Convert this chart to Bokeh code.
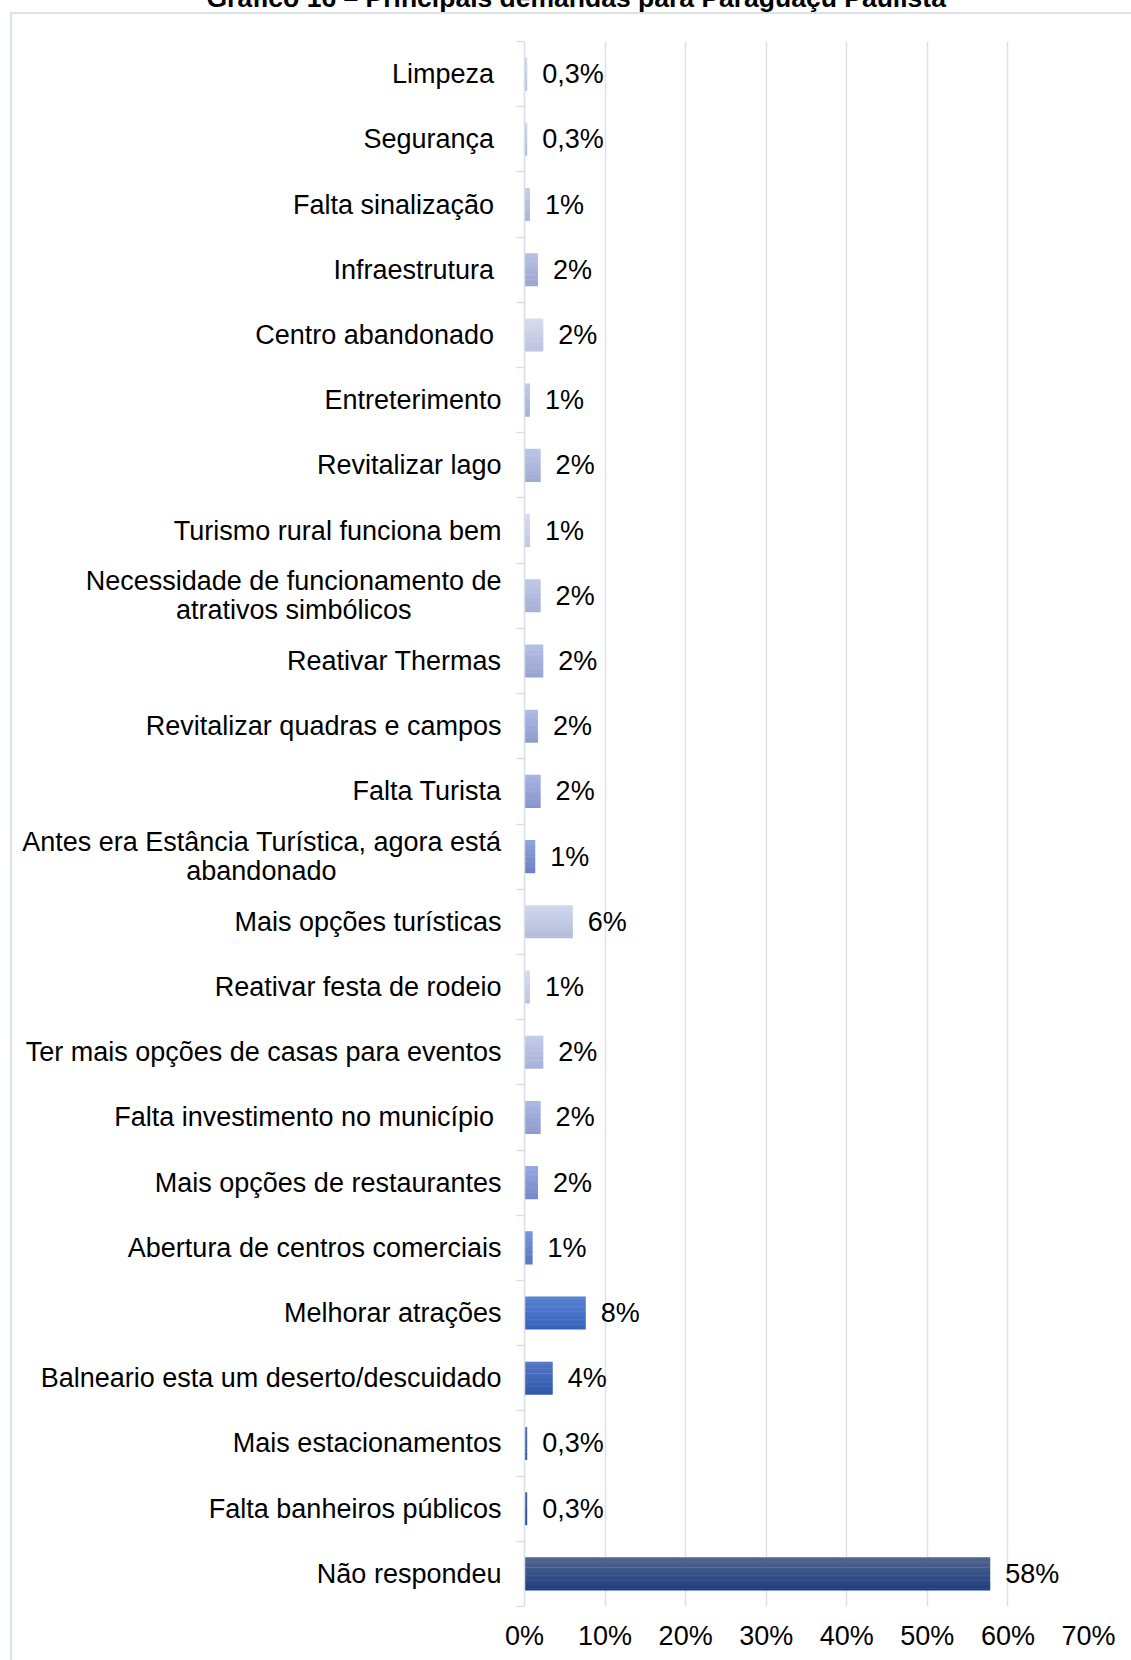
import numpy as np
from bokeh.plotting import figure
from bokeh.models import (Range1d, FixedTicker, PrintfTickFormatter, ColumnDataSource)
from bokeh.core.properties import value
from bokeh.embed import file_html
from bokeh.resources import INLINE

title_text = "Gráfico 16 – Principais demandas para Paraguaçu Paulista"

categories = [
    "Limpeza ", "Segurança ", "Falta sinalização ", "Infraestrutura ", "Centro abandonado ",
    "Entreterimento", "Revitalizar lago", "Turismo rural funciona bem",
    "Necessidade de funcionamento de\natrativos simbólicos" + " " * 12, "Reativar Thermas",
    "Revitalizar quadras e campos", "Falta Turista",
    "Antes era Estância Turística, agora está\nabandonado" + " " * 22, "Mais opções turísticas",
    "Reativar festa de rodeio", "Ter mais opções de casas para eventos",
    "Falta investimento no município ", "Mais opções de restaurantes",
    "Abertura de centros comerciais", "Melhorar atrações",
    "Balneario esta um deserto/descuidado", "Mais estacionamentos",
    "Falta banheiros públicos", "Não respondeu",
]
values = [0.33, 0.33, 0.67, 1.67, 2.33, 0.67, 2.0, 0.67, 2.0, 2.33, 1.67, 2.0,
          1.33, 6.0, 0.67, 2.33, 2.0, 1.67, 1.0, 7.6, 3.5, 0.33, 0.33, 57.8]
value_labels = ["0,3%", "0,3%", "1%", "2%", "2%", "1%", "2%", "1%", "2%", "2%", "2%", "2%",
                "1%", "6%", "1%", "2%", "2%", "2%", "1%", "8%", "4%", "0,3%", "0,3%", "58%"]
x_ticks = [0, 10, 20, 30, 40, 50, 60, 70]

# gradient colours (top, bottom) per bar - style
top_colors = ["#d3d9ee", "#cdd4ec", "#c5cde9", "#b8c2e4", "#d8ddf0", "#c0c9e8", "#bcc6e6", "#d8ddf0",
              "#c2cae8", "#b5c0e4", "#aebbe5", "#a7b5e3", "#8fa3df", "#d1d7ef", "#d6dcf0", "#c4cceb",
              "#adb9e3", "#97a9e1", "#7896dd", "#5a82d2", "#5577c2", "#4f70bc", "#4466b0", "#52658f"]
bottom_colors = ["#b9c1de", "#b3bcdc", "#a9b3d6", "#9aa5cf", "#bcc3de", "#a6b0d6", "#a0abd3", "#bec5df",
                 "#a4aed5", "#97a3d0", "#8d9cd0", "#8594cb", "#6b80c6", "#b3bbd9", "#bbc2de", "#a7b0d6",
                 "#8e9bcd", "#7487ca", "#5674c5", "#3462bc", "#2f58ad", "#2a52a6", "#254a99", "#1e3d80"]

n = len(categories)
idx = list(range(n))


def hex2rgb(h):
    h = h.lstrip("#")
    return np.array([int(h[i:i + 2], 16) for i in (0, 2, 4)], dtype=float)


def mix(a, b, t):
    c = hex2rgb(a) * (1 - t) + hex2rgb(b) * t
    return "#%02x%02x%02x" % tuple(int(round(v)) for v in c)


BORDER = "#dde2e9"
SHIFT = 49              # figure is pulled up so the title is cut off at the page top
W, H = 1131, 1660 + SHIFT
p = figure(width=W, height=H, x_range=Range1d(0, 70), y_range=Range1d(n - 0.5, -0.5),
           output_backend="svg", toolbar_location=None,
           min_border_left=524, min_border_right=43, min_border_top=40 + SHIFT,
           min_border_bottom=54,
           title=title_text,
           styles={
               "margin-top": f"-{SHIFT}px",
               "background-color": "white",
               "background-image": f"linear-gradient({BORDER},{BORDER}), linear-gradient({BORDER},{BORDER})",
               "background-size": "2px 100%, 100% 2px",
               "background-position": f"10px {12 + SHIFT}px, 10px {12 + SHIFT}px",
               "background-repeat": "no-repeat",
           })
p.outline_line_color = None
p.background_fill_color = "white"
p.border_fill_color = None

# title
p.title.align = "left"
p.title.offset = -318
p.title.standoff = 58
p.title.text_font = "Liberation Sans"
p.title.text_font_style = "bold"
p.title.text_font_size = "26.5px"
p.title.text_color = "#000000"

# grid
p.ygrid.visible = False
p.xaxis.ticker = FixedTicker(ticks=x_ticks)
p.xgrid.grid_line_color = "#dde1e9"
p.xgrid.grid_line_width = 1.5

# x axis
p.xaxis.formatter = PrintfTickFormatter(format="%d%%")
p.xaxis.axis_line_color = None
p.xaxis.major_tick_line_color = None
p.xaxis.minor_tick_line_color = None
p.xaxis.major_tick_out = 0
p.xaxis.major_label_standoff = 14
p.xaxis.major_label_text_font = "Liberation Sans"
p.xaxis.major_label_text_font_size = "27px"
p.xaxis.major_label_text_color = "#000000"

# y axis
p.yaxis.ticker = FixedTicker(ticks=idx, minor_ticks=[i - 0.5 for i in range(n + 1)])
p.yaxis.major_label_overrides = {i: c for i, c in zip(idx, categories)}
p.yaxis.major_tick_line_color = None
p.yaxis.major_tick_out = 0
p.yaxis.major_tick_in = 0
p.yaxis.minor_tick_in = 0
p.yaxis.minor_tick_out = 8
p.yaxis.minor_tick_line_color = "#d9dde5"
p.yaxis.minor_tick_line_width = 1.5
p.yaxis.axis_line_color = "#d9dde5"
p.yaxis.axis_line_width = 1.5
p.yaxis.major_label_standoff = 15
p.yaxis.major_label_text_font = "Liberation Sans"
p.yaxis.major_label_text_font_size = "27px"
p.yaxis.major_label_text_line_height = 0.98
p.yaxis.major_label_text_color = "#000000"

# bars as vertical gradient strips
N = 20
bar_h = 0.5
sy, sr, sc = [], [], []
for i in idx:
    for k in range(N):
        t = (k + 0.5) / N
        sy.append(i - bar_h / 2 + (k + 0.5) * bar_h / N)
        sr.append(values[i])
        sc.append(mix(top_colors[i], bottom_colors[i], t))
src = ColumnDataSource(dict(y=sy, right=sr, color=sc))
p.hbar(y="y", left=0, right="right", height=bar_h / N * 1.3, fill_color="color",
       line_color=None, source=src)

# value labels
p.text(x=values, y=idx, text=value_labels, x_offset=15, text_align="left",
       text_baseline="middle", text_font=value("Liberation Sans"), text_font_size="27px",
       text_color="#000000")

open("out.html", "w").write(file_html(p, INLINE))
